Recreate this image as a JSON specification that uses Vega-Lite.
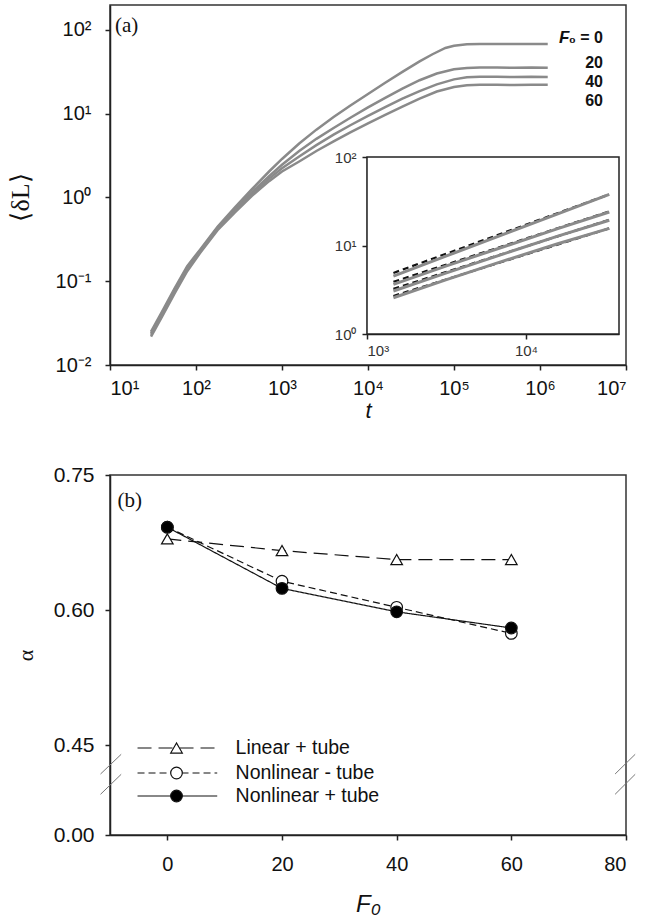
{
  "$schema": "https://vega.github.io/schema/vega-lite/v6.json",
  "padding": {"left": 6, "top": 4, "right": 5, "bottom": 5},
  "background": "white",
  "spacing": 110,
  "bounds": "flush",
  "config": {
    "font": "Liberation Sans",
    "view": {"stroke": "#333", "strokeWidth": 1.5},
    "axis": {"grid": false, "domainColor": "#222", "domainWidth": 1.5, "tickColor": "#222", "tickWidth": 1.5, "tickSize": 5, "labelFont": "Liberation Sans", "labelFontSize": 20, "labelColor": "#111", "titleColor": "#111"}
  },
  "datasets": {
    "main": [
      {"F":0,"t":30,"v":0.02512},{"F":0,"t":40,"v":0.04266},{"F":0,"t":56,"v":0.08128},{"F":0,"t":79,"v":0.1514},{"F":0,"t":112,"v":0.2399},{"F":0,"t":178,"v":0.4467},{"F":0,"t":282,"v":0.7586},{"F":0,"t":447,"v":1.259},{"F":0,"t":708,"v":2.042},{"F":0,"t":1000,"v":2.884},{"F":0,"t":1585,"v":4.416},{"F":0,"t":2512,"v":6.457},{"F":0,"t":3981,"v":9.12},{"F":0,"t":6310,"v":12.59},{"F":0,"t":10000,"v":17.18},{"F":0,"t":15849,"v":23.44},{"F":0,"t":25119,"v":31.62},{"F":0,"t":39811,"v":42.17},{"F":0,"t":56234,"v":51.29},{"F":0,"t":79433,"v":60.95},{"F":0,"t":100000,"v":64.86},{"F":0,"t":141254,"v":67.61},{"F":0,"t":199526,"v":68.08},{"F":0,"t":316228,"v":68.15},{"F":0,"t":501187,"v":68.0},{"F":0,"t":794328,"v":68.2},{"F":0,"t":1230000,"v":68.1},
      {"F":20,"t":30,"v":0.02399},{"F":20,"t":40,"v":0.04074},{"F":20,"t":56,"v":0.07762},{"F":20,"t":79,"v":0.1445},{"F":20,"t":112,"v":0.2328},{"F":20,"t":178,"v":0.4335},{"F":20,"t":282,"v":0.7244},{"F":20,"t":447,"v":1.161},{"F":20,"t":708,"v":1.799},{"F":20,"t":1000,"v":2.455},{"F":20,"t":1585,"v":3.589},{"F":20,"t":2512,"v":5.012},{"F":20,"t":3981,"v":6.761},{"F":20,"t":6310,"v":9.016},{"F":20,"t":10000,"v":11.89},{"F":20,"t":15849,"v":15.49},{"F":20,"t":25119,"v":19.95},{"F":20,"t":39811,"v":25.12},{"F":20,"t":63096,"v":30.2},{"F":20,"t":100000,"v":33.88},{"F":20,"t":141254,"v":35.24},{"F":20,"t":199526,"v":35.56},{"F":20,"t":316228,"v":35.6},{"F":20,"t":501187,"v":35.4},{"F":20,"t":794328,"v":35.7},{"F":20,"t":1230000,"v":35.5},
      {"F":40,"t":30,"v":0.02291},{"F":40,"t":40,"v":0.0389},{"F":40,"t":56,"v":0.07413},{"F":40,"t":79,"v":0.138},{"F":40,"t":112,"v":0.2254},{"F":40,"t":178,"v":0.4198},{"F":40,"t":282,"v":0.6918},{"F":40,"t":447,"v":1.096},{"F":40,"t":708,"v":1.679},{"F":40,"t":1000,"v":2.239},{"F":40,"t":1585,"v":3.09},{"F":40,"t":2512,"v":4.217},{"F":40,"t":3981,"v":5.623},{"F":40,"t":6310,"v":7.328},{"F":40,"t":10000,"v":9.441},{"F":40,"t":15849,"v":12.02},{"F":40,"t":25119,"v":15.14},{"F":40,"t":39811,"v":18.62},{"F":40,"t":63096,"v":22.39},{"F":40,"t":100000,"v":25.7},{"F":40,"t":141254,"v":27.23},{"F":40,"t":199526,"v":27.54},{"F":40,"t":316228,"v":27.6},{"F":40,"t":501187,"v":27.4},{"F":40,"t":794328,"v":27.6},{"F":40,"t":1230000,"v":27.5},
      {"F":60,"t":30,"v":0.02188},{"F":60,"t":40,"v":0.03715},{"F":60,"t":56,"v":0.07079},{"F":60,"t":79,"v":0.1318},{"F":60,"t":112,"v":0.2188},{"F":60,"t":178,"v":0.4074},{"F":60,"t":282,"v":0.6607},{"F":60,"t":447,"v":1.047},{"F":60,"t":708,"v":1.567},{"F":60,"t":1000,"v":2.042},{"F":60,"t":1585,"v":2.692},{"F":60,"t":2512,"v":3.589},{"F":60,"t":3981,"v":4.677},{"F":60,"t":6310,"v":6.026},{"F":60,"t":10000,"v":7.674},{"F":60,"t":15849,"v":9.661},{"F":60,"t":25119,"v":12.16},{"F":60,"t":39811,"v":15.14},{"F":60,"t":63096,"v":18.41},{"F":60,"t":100000,"v":20.89},{"F":60,"t":141254,"v":21.88},{"F":60,"t":199526,"v":22.13},{"F":60,"t":316228,"v":22.2},{"F":60,"t":501187,"v":22.0},{"F":60,"t":794328,"v":22.2},{"F":60,"t":1230000,"v":22.1}
    ],
    "labels": [
      {"t":5400000,"v":80.3,"label":"₀ = 0"},
      {"t":5400000,"v":40.5,"label":"20"},
      {"t":5400000,"v":24.0,"label":"40"},
      {"t":5400000,"v":14.3,"label":"60"}
    ],
    "inset": [
      {"F":0,"t":1466,"v":4.519},{"F":0,"t":3162,"v":7.621},{"F":0,"t":7079,"v":13.18},{"F":0,"t":15849,"v":22.8},{"F":0,"t":33420,"v":37.84},
      {"F":20,"t":1466,"v":3.639},{"F":20,"t":3162,"v":5.888},{"F":20,"t":7079,"v":9.55},{"F":20,"t":15849,"v":15.49},{"F":20,"t":33420,"v":23.88},
      {"F":40,"t":1466,"v":3.062},{"F":40,"t":3162,"v":4.898},{"F":40,"t":7079,"v":7.943},{"F":40,"t":15849,"v":12.74},{"F":40,"t":33420,"v":19.28},
      {"F":60,"t":1466,"v":2.57},{"F":60,"t":3162,"v":4.121},{"F":60,"t":7079,"v":6.607},{"F":60,"t":15849,"v":10.47},{"F":60,"t":33420,"v":15.63}
    ],
    "insetfit": [
      {"F":0,"t":1466,"v":4.898},{"F":0,"t":33420,"v":37.84},
      {"F":20,"t":1466,"v":3.89},{"F":20,"t":33420,"v":24.27},
      {"F":40,"t":1466,"v":3.236},{"F":40,"t":33420,"v":19.5},
      {"F":60,"t":1466,"v":2.692},{"F":60,"t":33420,"v":15.63}
    ],
    "alpha": [
      {"series":"Linear + tube","F0":0,"alpha":0.679},{"series":"Linear + tube","F0":20,"alpha":0.666},{"series":"Linear + tube","F0":40,"alpha":0.656},{"series":"Linear + tube","F0":60,"alpha":0.656},
      {"series":"Nonlinear - tube","F0":0,"alpha":0.692},{"series":"Nonlinear - tube","F0":20,"alpha":0.632},{"series":"Nonlinear - tube","F0":40,"alpha":0.603},{"series":"Nonlinear - tube","F0":60,"alpha":0.574},
      {"series":"Nonlinear + tube","F0":0,"alpha":0.692},{"series":"Nonlinear + tube","F0":20,"alpha":0.624},{"series":"Nonlinear + tube","F0":40,"alpha":0.598},{"series":"Nonlinear + tube","F0":60,"alpha":0.58}
    ],
    "legend": [
      {"series":"Linear + tube","xa":-5.2,"xb":8.7,"xs":1.6,"xt":11.9,"y":0.435},
      {"series":"Nonlinear - tube","xa":-5.2,"xb":8.7,"xs":1.6,"xt":11.9,"y":0.31},
      {"series":"Nonlinear + tube","xa":-5.2,"xb":8.7,"xs":1.6,"xt":11.9,"y":0.195}
    ],
    "breaks": [
      {"xa":-11.65,"xb":-8.05,"ya":0.305,"yb":0.4035},
      {"xa":-11.65,"xb":-8.05,"ya":0.2035,"yb":0.3035},
      {"xa":78.1,"xb":81.6,"ya":0.305,"yb":0.4035},
      {"xa":78.1,"xb":81.6,"ya":0.2035,"yb":0.3035}
    ]
  },
  "vconcat": [
    {
      "width": 516,
      "height": 360,
      "layer": [
        {
          "layer": [
            {
              "data": {"name": "main"},
              "mark": {"type": "line", "color": "#8a8a8a", "strokeWidth": 2.5},
              "encoding": {
                "x": {"field": "t", "type": "quantitative", "scale": {"type": "log", "domain": [10, 10000000], "nice": false},
                  "axis": {"values": [10, 100, 1000, 10000, 100000, 1000000, 10000000], "labelExpr": "['10¹','10²','10³','10⁴','10⁵','10⁶','10⁷'][round(log(datum.value)/LN10)-1]", "labelPadding": 8, "title": "t", "titleFont": "Liberation Sans", "titleFontStyle": "italic", "titleFontWeight": "normal", "titleFontSize": 22, "titleY": 45, "titleBaseline": "middle"}},
                "y": {"field": "v", "type": "quantitative", "scale": {"type": "log", "domain": [0.01, 198.6], "nice": false},
                  "axis": {"values": [0.01, 0.1, 1, 10, 100], "labelExpr": "['10⁻²','10⁻¹','10⁰','10¹','10²'][round(log(datum.value)/LN10)+2]", "labelPadding": 14, "title": "⟨δL⟩", "titleFont": "Liberation Serif", "titleFontWeight": "normal", "titleFontSize": 26, "titleX": -90, "titleY": 192, "titleBaseline": "middle"}},
                "detail": {"field": "F", "type": "nominal"}
              }
            },
            {
              "data": {"name": "labels"},
              "mark": {"type": "text", "align": "right", "baseline": "middle", "fontWeight": "bold", "fontSize": 16, "color": "#111"},
              "encoding": {
                "x": {"field": "t", "type": "quantitative"},
                "y": {"field": "v", "type": "quantitative"},
                "text": {"field": "label"}
              }
            },
            {
              "data": {"values": [{"t": 2200000, "v": 80.3, "label": "F"}]},
              "mark": {"type": "text", "align": "right", "baseline": "middle", "fontWeight": "bold", "fontStyle": "italic", "fontSize": 17, "color": "#111"},
              "encoding": {
                "x": {"field": "t", "type": "quantitative"},
                "y": {"field": "v", "type": "quantitative"},
                "text": {"field": "label"}
              }
            },
            {
              "data": {"values": [{"t": 11.4, "v": 111.6, "label": "(a)"}]},
              "mark": {"type": "text", "align": "left", "baseline": "middle", "font": "Liberation Serif", "fontSize": 21, "color": "#111"},
              "encoding": {
                "x": {"field": "t", "type": "quantitative"},
                "y": {"field": "v", "type": "quantitative"},
                "text": {"field": "label"}
              }
            }
          ]
        },
        {
          "layer": [
            {
              "data": {"values": [{"x0": 1000, "x1": 38459, "y0": 1, "y1": 100}]},
              "mark": {"type": "rect", "fill": "white", "stroke": "#222", "strokeWidth": 1.5},
              "encoding": {
                "x": {"field": "x0", "type": "quantitative", "scale": {"type": "log", "domain": [1000, 38459], "range": [257, 509], "nice": false},
                  "axis": {"orient": "bottom", "offset": -31, "values": [1000, 10000], "labelExpr": "datum.value == 1000 ? '10³' : '10⁴'", "labelFontSize": 15, "labelColor": "#333", "labelPadding": 4, "title": null}},
                "x2": {"field": "x1"},
                "y": {"field": "y0", "type": "quantitative", "scale": {"type": "log", "domain": [1, 100], "range": [329, 152], "nice": false},
                  "axis": {"orient": "left", "offset": -257, "values": [1, 10, 100], "labelExpr": "['10⁰','10¹','10²'][round(log(datum.value)/LN10)]", "labelFontSize": 15, "labelColor": "#333", "labelPadding": 6, "title": null}},
                "y2": {"field": "y1"}
              }
            },
            {
              "data": {"name": "insetfit"},
              "mark": {"type": "line", "color": "#111", "strokeWidth": 2.2, "strokeDash": [6, 4]},
              "encoding": {
                "x": {"field": "t", "type": "quantitative"},
                "y": {"field": "v", "type": "quantitative"},
                "detail": {"field": "F", "type": "nominal"}
              }
            },
            {
              "data": {"name": "inset"},
              "mark": {"type": "line", "color": "#8a8a8a", "strokeWidth": 3},
              "encoding": {
                "x": {"field": "t", "type": "quantitative"},
                "y": {"field": "v", "type": "quantitative"},
                "detail": {"field": "F", "type": "nominal"}
              }
            }
          ]
        }
      ],
      "resolve": {"scale": {"x": "independent", "y": "independent"}, "axis": {"x": "independent", "y": "independent"}}
    },
    {
      "width": 516,
      "height": 360,
      "layer": [
        {
          "data": {"name": "alpha"},
          "mark": {"type": "line", "color": "#111", "strokeWidth": 1.2},
          "encoding": {
            "x": {"field": "F0", "type": "quantitative", "scale": {"domain": [-10, 80], "nice": false, "zero": false},
              "axis": {"values": [0, 20, 40, 60, 80], "labelPadding": 14, "title": "F₀", "titleFont": "Liberation Sans", "titleFontStyle": "italic", "titleFontWeight": "normal", "titleFontSize": 24, "titleY": 69, "titleBaseline": "middle"}},
            "y": {"field": "alpha", "type": "quantitative", "scale": {"domain": [0, 0.45, 0.75], "range": [360, 270, 0], "nice": false, "zero": false},
              "axis": {"values": [0, 0.45, 0.6, 0.75], "format": ".2f", "labelPadding": 11, "labelFontSize": 21, "title": "α", "titleFont": "Liberation Serif", "titleFontWeight": "normal", "titleFontSize": 22, "titleX": -85, "titleBaseline": "middle"}},
            "detail": {"field": "series", "type": "nominal"},
            "strokeDash": {"field": "series", "type": "nominal", "scale": {"domain": ["Linear + tube", "Nonlinear - tube", "Nonlinear + tube"], "range": [[14, 7], [7, 4], [1, 0]]}, "legend": null}
          }
        },
        {
          "data": {"name": "alpha"},
          "mark": {"type": "point", "filled": true, "stroke": "#111", "strokeWidth": 1.2, "size": 135, "opacity": 1},
          "encoding": {
            "x": {"field": "F0", "type": "quantitative"},
            "y": {"field": "alpha", "type": "quantitative"},
            "shape": {"field": "series", "type": "nominal", "scale": {"domain": ["Linear + tube", "Nonlinear - tube", "Nonlinear + tube"], "range": ["triangle-up", "circle", "circle"]}, "legend": null},
            "fill": {"field": "series", "type": "nominal", "scale": {"domain": ["Linear + tube", "Nonlinear - tube", "Nonlinear + tube"], "range": ["white", "white", "#000"]}, "legend": null}
          }
        },
        {
          "data": {"name": "legend"},
          "mark": {"type": "rule", "color": "#111", "strokeWidth": 1.2},
          "encoding": {
            "x": {"field": "xa", "type": "quantitative"},
            "x2": {"field": "xb"},
            "y": {"field": "y", "type": "quantitative"},
            "strokeDash": {"field": "series", "type": "nominal", "legend": null}
          }
        },
        {
          "data": {"name": "legend"},
          "mark": {"type": "point", "filled": true, "stroke": "#111", "strokeWidth": 1.2, "size": 135, "opacity": 1},
          "encoding": {
            "x": {"field": "xs", "type": "quantitative"},
            "y": {"field": "y", "type": "quantitative"},
            "shape": {"field": "series", "type": "nominal", "legend": null},
            "fill": {"field": "series", "type": "nominal", "legend": null}
          }
        },
        {
          "data": {"name": "legend"},
          "mark": {"type": "text", "align": "left", "baseline": "middle", "fontSize": 19.5, "color": "#111"},
          "encoding": {
            "x": {"field": "xt", "type": "quantitative"},
            "y": {"field": "y", "type": "quantitative"},
            "text": {"field": "series"}
          }
        },
        {
          "data": {"name": "breaks"},
          "mark": {"type": "rule", "color": "#777", "strokeWidth": 1},
          "encoding": {
            "x": {"field": "xa", "type": "quantitative"},
            "x2": {"field": "xb"},
            "y": {"field": "ya", "type": "quantitative"},
            "y2": {"field": "yb"}
          }
        },
        {
          "data": {"values": [{"x": -8.7, "y": 0.721, "label": "(b)"}]},
          "mark": {"type": "text", "align": "left", "baseline": "middle", "font": "Liberation Serif", "fontSize": 21, "color": "#111"},
          "encoding": {
            "x": {"field": "x", "type": "quantitative"},
            "y": {"field": "y", "type": "quantitative"},
            "text": {"field": "label"}
          }
        }
      ]
    }
  ]
}
